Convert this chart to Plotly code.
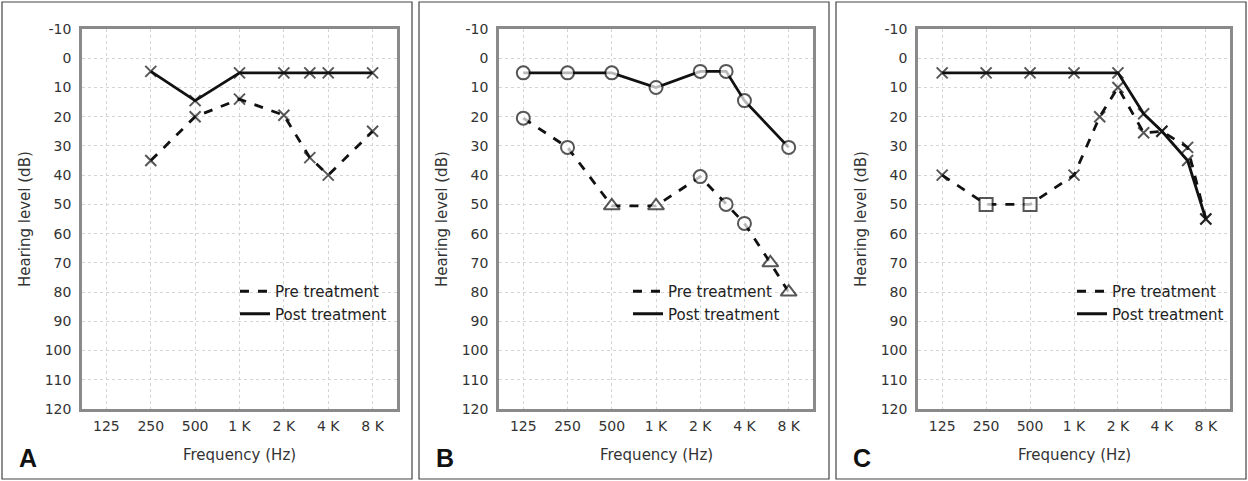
import math
import plotly.graph_objects as go

# frequency axis (Hz) and its labels
freq_ticks = [125, 250, 500, 1000, 2000, 4000, 8000]
freq_text = ['125', '250', '500', '1 K', '2 K', '4 K', '8 K']
db_ticks = list(range(-10, 130, 10))
db_text = [str(v) for v in db_ticks]

# panel A
a_freq = [250, 500, 1000, 2000, 3000, 4000, 8000]
a_pre = [35, 20, 14, 19.5, 34, 40, 25]
a_post = [4.5, 14.5, 5, 5, 5, 5, 5]
a_pre_sym = ['x-thin'] * 7
a_post_sym = ['x-thin'] * 7

# panel B
b_pre_freq = [125, 250, 500, 1000, 2000, 3000, 4000, 6000, 8000]
b_pre = [20.5, 30.5, 50.5, 50.5, 40.5, 50, 56.5, 70, 80]
b_pre_sym = ['circle', 'circle', 'triangle-up', 'triangle-up', 'circle', 'circle', 'circle',
             'triangle-up', 'triangle-up']
b_post_freq = [125, 250, 500, 1000, 2000, 3000, 4000, 8000]
b_post = [5, 5, 5, 10, 4.5, 4.5, 14.5, 30.5]
b_post_sym = ['circle'] * 8

# panel C
c_pre_freq = [125, 250, 500, 1000, 1500, 2000, 3000, 4000, 6000, 8000]
c_pre = [40, 50, 50, 40, 20, 10, 25.5, 25, 30.5, 55]
c_pre_sym = ['x-thin', 'square', 'square', 'x-thin', 'x-thin', 'x-thin', 'x-thin', 'x-thin',
             'x-thin', 'x-thin']
c_post_freq = [125, 250, 500, 1000, 2000, 3000, 4000, 6000, 8000]
c_post = [5, 5, 5, 5, 5, 19, 25, 35, 55]
c_post_sym = ['x-thin'] * 9

W, H = 1248, 481
FONT = 'DejaVu Sans'
SIZES = {'circle': 13, 'triangle-up': 14, 'square': 13, 'x-thin': 11}

panels = [
    dict(letter='A', px=(82, 397), frame=(2, 412),
         pre=(a_freq, a_pre, a_pre_sym), post=(a_freq, a_post, a_post_sym), leg=235),
    dict(letter='B', px=(499, 813), frame=(419, 829),
         pre=(b_pre_freq, b_pre, b_pre_sym), post=(b_post_freq, b_post, b_post_sym), leg=628),
    dict(letter='C', px=(918, 1230), frame=(836, 1246),
         pre=(c_pre_freq, c_pre, c_pre_sym), post=(c_post_freq, c_post, c_post_sym), leg=1072),
]

plot_top, plot_bottom = 29, 409
pad = 0.55 * math.log10(2)
xrange = [math.log10(freq_ticks[0]) - pad, math.log10(freq_ticks[-1]) + pad]

fig = go.Figure()
shapes = []
annotations = []
layout = {}

for i, p in enumerate(panels):
    n = '' if i == 0 else str(i + 1)
    xa, ya = 'x' + n, 'y' + n
    leg = 'legend' + n
    x0, x1 = p['px']

    for name, (fx, fy, sym), dash in [('Pre treatment', p['pre'], 'dash'),
                                       ('Post treatment', p['post'], 'solid')]:
        fig.add_trace(go.Scatter(
            x=fx, y=fy, mode='lines+markers', xaxis=xa, yaxis=ya, showlegend=False,
            line=dict(color='#111', width=2.8, dash=dash),
            marker=dict(symbol=sym, size=[SIZES[s] for s in sym], color='white',
                        line=dict(color='#111', width=2))))
        fig.add_trace(go.Scatter(
            x=[None], y=[None], mode='lines', name=name, xaxis=xa, yaxis=ya, legend=leg,
            line=dict(color='#111', width=3, dash=dash)))

    layout['xaxis' + n] = dict(
        type='log', range=xrange, domain=[x0 / W, x1 / W], anchor=ya, automargin=False,
        tickvals=freq_ticks, ticktext=freq_text, ticks='outside', ticklen=2,
        tickcolor='rgba(0,0,0,0)', showgrid=True, gridcolor='#d4d4d4', griddash='dot',
        gridwidth=1, showline=True, mirror=True, linecolor='#8a8a8a', linewidth=2.5,
        tickfont=dict(family=FONT, size=14, color='#333'), zeroline=False)
    layout['yaxis' + n] = dict(
        range=[120, -10], domain=[1 - plot_bottom / H, 1 - plot_top / H], anchor=xa,
        automargin=False,
        tickvals=db_ticks, ticktext=db_text, ticks='outside', ticklen=5,
        tickcolor='rgba(0,0,0,0)',
        showgrid=True, gridcolor='#d4d4d4', griddash='dot', gridwidth=1,
        showline=True, mirror=True, linecolor='#8a8a8a', linewidth=2.5,
        tickfont=dict(family=FONT, size=14, color='#333'), zeroline=False)
    layout[leg] = dict(
        x=p['leg'] / W, y=1 - 275 / H, xanchor='left', yanchor='top',
        bgcolor='rgba(0,0,0,0)', tracegroupgap=0,
        font=dict(family=FONT, size=15, color='#222'))

    fx0, fx1 = p['frame']
    shapes.append(dict(type='rect', xref='paper', yref='paper',
                       x0=fx0 / W, x1=fx1 / W, y0=2 / H, y1=1 - 2 / H,
                       line=dict(color='#444', width=1.2)))
    annotations.append(dict(text='Hearing level (dB)', xref='paper', yref='paper',
                            x=(x0 - 57) / W, y=1 - 219 / H, textangle=-90,
                            xanchor='center', yanchor='middle', showarrow=False,
                            font=dict(family=FONT, size=15, color='#333')))
    annotations.append(dict(text='Frequency (Hz)', xref='paper', yref='paper',
                            x=(x0 + x1) / 2 / W, y=1 - 455 / H,
                            xanchor='center', yanchor='middle', showarrow=False,
                            font=dict(family=FONT, size=15, color='#333')))
    annotations.append(dict(text='<b>' + p['letter'] + '</b>', xref='paper', yref='paper',
                            x=(fx0 + 26) / W, y=1 - 458 / H,
                            xanchor='center', yanchor='middle', showarrow=False,
                            font=dict(family='Liberation Sans', size=25, color='#111')))

fig.update_layout(
    width=W, height=H, margin=dict(l=0, r=0, t=0, b=0, autoexpand=False),
    paper_bgcolor='white', plot_bgcolor='white',
    shapes=shapes, annotations=annotations, **layout)

page_fix = (
    "document.documentElement.style.margin='0';"
    "document.body.style.margin='0';document.body.style.padding='0';"
    "document.body.style.overflow='hidden';"
)
fig.write_html("out.html", config={'displayModeBar': False}, post_script=page_fix)
